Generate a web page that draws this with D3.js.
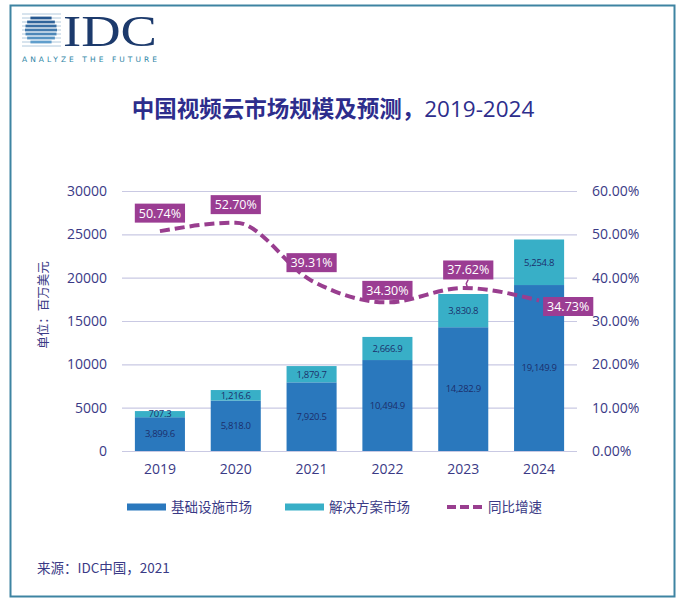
<!DOCTYPE html>
<html>
<head>
<meta charset="utf-8">
<script src="https://cdn.jsdelivr.net/npm/d3@7"></script>
<style>
  html, body { margin: 0; padding: 0; background: #fff; }
  svg { display: block; }
</style>
</head>
<body>
<div id="chart"></div>
<script>
const years = ["2019", "2020", "2021", "2022", "2023", "2024"];
const infraValues = [3899.6, 5818.0, 7920.5, 10494.9, 14282.9, 19149.9];
const solutionValues = [707.3, 1216.6, 1879.7, 2666.9, 3830.8, 5254.8];
const growthValues = [0.5074, 0.5270, 0.3931, 0.3430, 0.3762, 0.3473];
const growthLabelPlace = ["above", "above", "above", "above-near", "above-leader", "right"];
const leftTicks = [0, 5000, 10000, 15000, 20000, 25000, 30000];
const rightTicks = [0, 0.1, 0.2, 0.3, 0.4, 0.5, 0.6];
const seriesNames = ["基础设施市场", "解决方案市场", "同比增速"];

const W = 683, H = 605;
const darkBlue = "#2a78bd";
const lightBlue = "#38afc7";
const purple = "#993e8f";
const textColor = "#3a3a86";
const latin = "'Open Sans', 'Noto Sans', sans-serif";
const cjk = "'Noto Sans CJK SC', 'Noto Sans', sans-serif";

const svg = d3.select("#chart").append("svg")
  .attr("width", W)
  .attr("height", H);

svg.append("rect").attr("width", W).attr("height", H).attr("fill", "#fff");

// frame
svg.append("rect")
  .attr("x", 10.5).attr("y", 5.5)
  .attr("width", 664).attr("height", 591)
  .attr("fill", "none")
  .attr("stroke", "#3e84a2")
  .attr("stroke-width", 2);

// IDC logo
const logo = svg.append("g");
const gcx = 41, gcy = 30, gr = 16;
const stripeColor = d3.scaleLinear().domain([gcy - gr, gcy + gr]).range(["#1d4c86", "#6aaad6"]);
d3.range(9).forEach((i) => {
  const yy = 14 + i * 4;
  logo.append("line")
    .attr("x1", 22).attr("x2", 61).attr("y1", yy).attr("y2", yy)
    .attr("stroke", "#9dbad3").attr("stroke-width", 0.8);
  const dy = yy - gcy;
  if (Math.abs(dy) < gr) {
    const half = Math.sqrt(gr * gr - dy * dy);
    logo.append("line")
      .attr("x1", gcx - half).attr("x2", gcx + half).attr("y1", yy).attr("y2", yy)
      .attr("stroke", stripeColor(yy)).attr("stroke-width", 2.8);
  }
});
logo.append("text")
  .attr("x", 63).attr("y", 46)
  .attr("font-family", "'Liberation Serif', 'DejaVu Serif', serif")
  .attr("font-size", 44)
  .attr("fill", "#1c3a6c")
  .attr("textLength", 94)
  .attr("lengthAdjust", "spacingAndGlyphs")
  .text("IDC");
logo.append("text")
  .attr("x", 22).attr("y", 62)
  .attr("font-family", "'DejaVu Sans', sans-serif")
  .attr("font-size", 7.5)
  .attr("fill", "#2f86a6")
  .attr("textLength", 135)
  .attr("lengthAdjust", "spacing")
  .text("ANALYZE THE FUTURE");

// title
const title = svg.append("text")
  .attr("x", 333).attr("y", 117)
  .attr("text-anchor", "middle")
  .attr("fill", "#2d2d8c")
  .attr("font-size", 22.5);
title.append("tspan").attr("font-family", cjk).attr("font-weight", "bold").text("中国视频云市场规模及预测，");
title.append("tspan").attr("font-family", latin).text("2019-2024");

// scales
const margin = { left: 122, right: 577, top: 191, bottom: 451 };
const x = d3.scaleBand()
  .domain(years)
  .range([margin.left, margin.right])
  .paddingInner(0.34)
  .paddingOuter(0.17);
const y = d3.scaleLinear().domain([0, 30000]).range([margin.bottom, margin.top]);
const yR = d3.scaleLinear().domain([0, 0.6]).range([margin.bottom, margin.top]);

// gridlines
svg.append("g")
  .attr("transform", `translate(${margin.left},0)`)
  .call(d3.axisLeft(y).tickValues(leftTicks).tickSize(-(margin.right - margin.left)).tickFormat(""))
  .call((g) => g.select(".domain").remove())
  .selectAll("line")
  .attr("stroke", "#c9c9e3")
  .attr("stroke-width", 1.2);

// left axis
svg.append("g")
  .attr("transform", `translate(${margin.left},0)`)
  .call(d3.axisLeft(y).tickValues(leftTicks).tickSize(0).tickPadding(15).tickFormat(d3.format("d")))
  .call((g) => g.select(".domain").remove())
  .selectAll("text")
  .attr("fill", textColor)
  .attr("font-family", latin)
  .attr("font-size", "14px");

// right axis
svg.append("g")
  .attr("transform", `translate(${margin.right},0)`)
  .call(d3.axisRight(yR).tickValues(rightTicks).tickSize(0).tickPadding(15).tickFormat(d3.format(".2%")))
  .call((g) => g.select(".domain").remove())
  .selectAll("text")
  .attr("fill", textColor)
  .attr("font-family", latin)
  .attr("font-size", "14px");

// x axis
svg.append("g")
  .attr("transform", `translate(0,${margin.bottom})`)
  .call(d3.axisBottom(x).tickSize(0).tickPadding(13))
  .call((g) => g.select(".domain").remove())
  .selectAll("text")
  .attr("fill", textColor)
  .attr("font-family", latin)
  .attr("font-size", "14px");

// y title
svg.append("text")
  .attr("transform", "translate(48,305) rotate(-90)")
  .attr("text-anchor", "middle")
  .attr("fill", textColor)
  .attr("font-family", cjk)
  .attr("font-size", 12.5)
  .text("单位：百万美元");

// stacked bars
const rows = years.map((yr, i) => ({ year: yr, infra: infraValues[i], solution: solutionValues[i] }));
const stack = d3.stack().keys(["infra", "solution"])(rows);
const barColors = [darkBlue, lightBlue];

const layers = svg.selectAll(".layer")
  .data(stack)
  .join("g")
  .attr("class", "layer")
  .attr("fill", (d, i) => barColors[i]);

layers.selectAll("rect")
  .data((d) => d)
  .join("rect")
  .attr("x", (d) => x(d.data.year))
  .attr("y", (d) => y(d[1]))
  .attr("width", x.bandwidth())
  .attr("height", (d) => y(d[0]) - y(d[1]));

const fmtVal = d3.format(",.1f");
layers.selectAll("text")
  .data((d) => d.map((p) => ({ p, key: d.key })))
  .join("text")
  .attr("x", (d) => x(d.p.data.year) + x.bandwidth() / 2)
  .attr("y", (d) => (y(d.p[0]) + y(d.p[1])) / 2)
  .attr("dy", "0.35em")
  .attr("text-anchor", "middle")
  .attr("fill", "#1c2f6c")
  .attr("font-family", latin)
  .attr("font-size", "9.5px")
  .attr("letter-spacing", "-0.3")
  .text((d) => fmtVal(d.p.data[d.key]));

// growth line
const pts = years.map((yr, i) => ({ x: x(yr) + x.bandwidth() / 2, y: yR(growthValues[i]), v: growthValues[i], place: growthLabelPlace[i] }));
const line = d3.line().x((d) => d.x).y((d) => d.y).curve(d3.curveMonotoneX);

svg.append("path")
  .datum(pts)
  .attr("d", line)
  .attr("fill", "none")
  .attr("stroke", purple)
  .attr("stroke-width", 4)
  .attr("stroke-dasharray", "10,5");

// growth labels
const fmtPct = d3.format(".2%");
const labels = svg.selectAll(".glabel")
  .data(pts)
  .join("g")
  .attr("class", "glabel");

labels.each(function (d) {
  const g = d3.select(this);
  const t = g.append("text")
    .attr("fill", "#fff")
    .attr("font-family", latin)
    .attr("font-size", "12.5px")
    .attr("text-anchor", "middle")
    .attr("dy", "0.35em")
    .text(fmtPct(d.v));
  const bb = t.node().getBBox();
  const bw = bb.width + 8, bh = 19;
  let cx, cy;
  if (d.place === "right") {
    cx = d.x + 4 + bw / 2;
    cy = d.y + 6;
  } else if (d.place === "above-near") {
    cx = d.x;
    cy = d.y - 12;
  } else {
    cx = d.x + (d.place === "above-leader" ? 5 : 0);
    cy = d.y - 18;
  }
  if (d.place === "above-leader") {
    g.append("path")
      .attr("d", `M${cx},${cy + bh / 2} L${cx - 2},${cy + bh / 2 + 4} L${d.x + 4},${d.y - 1}`)
      .attr("fill", "none")
      .attr("stroke", purple)
      .attr("stroke-width", 1.5);
  }
  g.insert("rect", "text")
    .attr("x", cx - bw / 2)
    .attr("y", cy - bh / 2)
    .attr("width", bw)
    .attr("height", bh)
    .attr("fill", "#9b3d93");
  t.attr("x", cx).attr("y", cy);
});

// legend
const legend = svg.append("g").attr("transform", "translate(0,507)");
const legendItems = [
  { name: seriesNames[0], x: 127, type: "rect", color: darkBlue },
  { name: seriesNames[1], x: 285, type: "rect", color: lightBlue },
  { name: seriesNames[2], x: 447, type: "line", color: purple }
];
legendItems.forEach((d) => {
  if (d.type === "rect") {
    legend.append("rect")
      .attr("x", d.x).attr("y", -3.5)
      .attr("width", 39).attr("height", 7)
      .attr("fill", d.color);
  } else {
    legend.append("line")
      .attr("x1", d.x).attr("x2", d.x + 35)
      .attr("y1", 0).attr("y2", 0)
      .attr("stroke", d.color)
      .attr("stroke-width", 4)
      .attr("stroke-dasharray", "9,4");
  }
  legend.append("text")
    .attr("x", d.type === "rect" ? d.x + 44 : d.x + 41)
    .attr("y", 0)
    .attr("dy", "0.35em")
    .attr("fill", textColor)
    .attr("font-family", cjk)
    .attr("font-size", 13.5)
    .text(d.name);
});

// source
svg.append("text")
  .attr("x", 37).attr("y", 573)
  .attr("fill", textColor)
  .attr("font-family", cjk)
  .attr("font-size", 13.5)
  .text("来源：IDC中国，2021");
</script>
</body>
</html>
